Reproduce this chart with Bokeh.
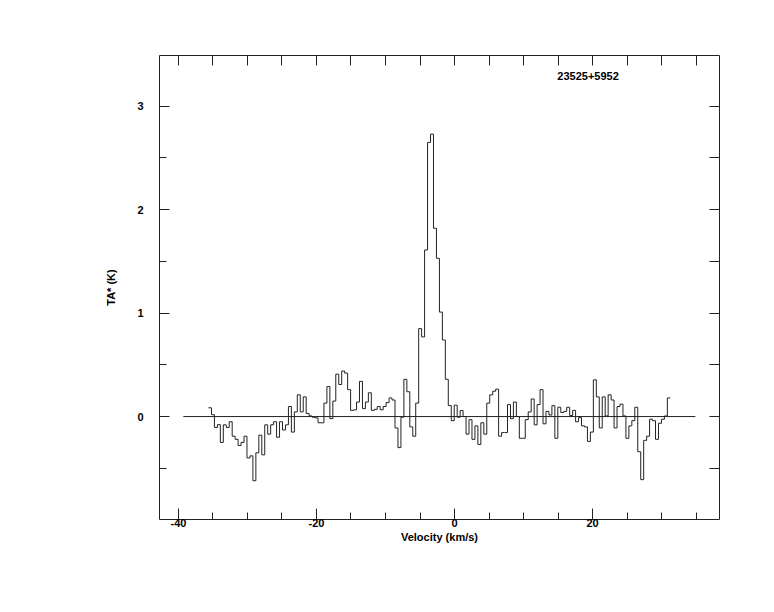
from bokeh.plotting import figure
from bokeh.models import LinearAxis, FixedTicker, Range1d, Label, CustomJSTickFormatter
from bokeh.embed import file_html
from bokeh.resources import INLINE

# ---- data ----
source_name = "23525+5952"
velocity_start = -35.65      # km/s, left edge of first channel
channel_width = 0.429        # km/s
ta_values = [
    0.085, 0.018, -0.105, -0.078, -0.25, -0.08, -0.105, -0.05, -0.19, -0.22,
    -0.28, -0.25, -0.19, -0.40, -0.38, -0.62, -0.35, -0.18, -0.37, -0.08,
    -0.17, -0.08, -0.05, -0.20, -0.05, -0.13, -0.08, 0.097, -0.15, 0.045,
    0.21, 0.045, 0.19, 0.03, 0.006, -0.006, -0.013, -0.06, -0.06, 0.13,
    0.29, -0.02, 0.15, 0.41, 0.31, 0.44, 0.42, 0.26, 0.06, 0.065,
    0.14, 0.34, 0.077, 0.14, 0.23, 0.06, 0.07, 0.097, 0.065, 0.097,
    0.135, 0.18, 0.16, -0.11, -0.30, -0.006, 0.36, 0.24, -0.10, -0.19,
    0.13, 0.85, 0.77, 1.61, 2.65, 2.73, 1.82, 1.53, 1.01, 0.74,
    0.36, 0.106, -0.04, 0.11, -0.006, 0.058, 0.0, -0.17, -0.03, -0.22,
    -0.09, -0.27, -0.06, -0.17, 0.13, 0.21, 0.245, 0.265, -0.19, -0.155,
    -0.155, 0.116, -0.02, 0.14, 0.0, -0.21, -0.21, -0.03, 0.045, 0.17,
    -0.08, 0.116, 0.26, -0.07, 0.05, 0.015, 0.105, -0.21, 0.09, 0.039,
    0.05, 0.09, 0.01, 0.06, -0.05, -0.01, -0.09, -0.10, -0.24, -0.15,
    0.355, 0.19, -0.11, 0.19, 0.006, 0.21, 0.16, -0.11, 0.097, 0.12,
    0.006, -0.21, -0.09, -0.04, 0.09, -0.34, -0.61, -0.23, -0.19, -0.026,
    -0.04, -0.22, -0.065, -0.026, 0.006, 0.18,
]
baseline_start = -39.3
baseline_end = 34.9
label_x = 14.9
label_y = 3.29

x_major_ticks = [-40, -20, 0, 20]
x_minor_ticks = [-35, -30, -25, -15, -10, -5, 5, 10, 15, 25, 30, 35]
x_top_ticks = [-40, -35, -30, -25, -20, -15, -10, -5, 0, 5, 10, 15, 20, 25, 30, 35]
y_major_ticks = [0, 1, 2, 3]
y_minor_ticks = [-0.5, 0.5, 1.5, 2.5]
y_right_ticks = [-0.5, 0, 0.5, 1, 1.5, 2, 2.5, 3]

# ---- figure ----
FONT = "Liberation Sans"
W, H = 760, 600
p = figure(width=W, height=H,
           x_range=Range1d(-42.75, 38.4), y_range=Range1d(-0.995, 3.49),
           output_backend="svg", toolbar_location=None,
           min_border_left=159, min_border_right=W - 719,
           min_border_top=55, min_border_bottom=H - 519)
p.xgrid.visible = False
p.ygrid.visible = False
p.outline_line_color = "#222222"
p.outline_line_width = 1
p.background_fill_color = "white"
p.border_fill_color = "white"

LINE = "#222222"

# step spectrum from channel edges
edges = [velocity_start + i * channel_width for i in range(len(ta_values) + 1)]
levels = ta_values + [ta_values[-1]]
p.step(edges, levels, mode="after", line_color=LINE, line_width=1)

# baseline
p.line([baseline_start, baseline_end], [0, 0], line_color=LINE, line_width=1)

# source label
p.add_layout(Label(x=label_x, y=label_y, text=source_name,
                   text_font=FONT, text_font_style="bold", text_font_size="11px",
                   text_baseline="middle", text_align="left", text_color="black"))

def style_axis(ax, major_in, minor_in):
    ax.axis_line_color = None
    ax.major_tick_in = major_in
    ax.major_tick_out = 0
    ax.minor_tick_in = minor_in
    ax.minor_tick_out = 0
    ax.major_tick_line_color = LINE
    ax.minor_tick_line_color = LINE
    ax.major_label_text_font = FONT
    ax.major_label_text_font_style = "bold"
    ax.major_label_text_font_size = "11px"
    ax.major_label_text_color = "black"
    ax.axis_label_text_font = FONT
    ax.axis_label_text_font_style = "bold"
    ax.axis_label_text_font_size = "11px"
    ax.axis_label_text_color = "black"

plain = CustomJSTickFormatter(code="return tick.toString()")

xa = p.xaxis[0]
xa.ticker = FixedTicker(ticks=x_major_ticks, minor_ticks=x_minor_ticks)
xa.formatter = plain
style_axis(xa, 11, 7)
xa.axis_label = "Velocity (km/s)"
xa.major_label_standoff = -1
xa.axis_label_standoff = 1

ya = p.yaxis[0]
ya.ticker = FixedTicker(ticks=y_major_ticks, minor_ticks=y_minor_ticks)
ya.formatter = CustomJSTickFormatter(code="return tick.toString()")
style_axis(ya, 10, 7)
ya.axis_label = "TA* (K)"
ya.major_label_standoff = 16
ya.axis_label_standoff = 17
ya.major_label_orientation = "horizontal"

blank = CustomJSTickFormatter(code="return ''")
top = LinearAxis(ticker=FixedTicker(ticks=x_top_ticks), formatter=blank)
style_axis(top, 10, 0)
p.add_layout(top, "above")

right = LinearAxis(ticker=FixedTicker(ticks=y_right_ticks),
                   formatter=CustomJSTickFormatter(code="return ''"))
style_axis(right, 10, 0)
p.add_layout(right, "right")

open("out.html", "w").write(file_html(p, INLINE))
